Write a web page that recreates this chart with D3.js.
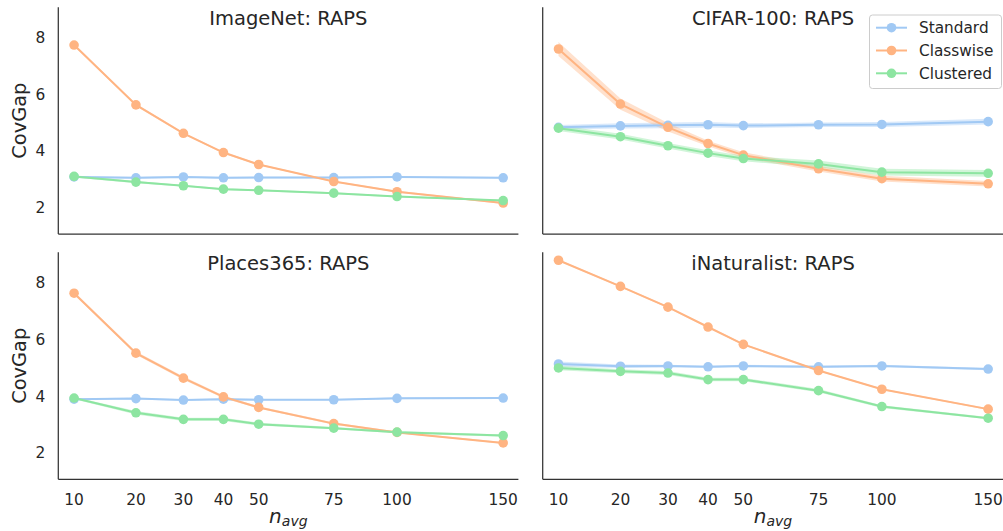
<!DOCTYPE html>
<html>
<head>
<meta charset="utf-8">
<script src="https://cdn.jsdelivr.net/npm/d3@7/dist/d3.min.js"></script>
<style>
  body { margin: 0; background: #fff; }
  text { font-family: "DejaVu Sans", sans-serif; fill: #262626; }
</style>
</head>
<body>
<svg id="chart" width="1003" height="531"></svg>
<script>
var nAvg = [10, 20, 30, 40, 50, 75, 100, 150];
var yTicks = [2, 4, 6, 8];
var methods = ["Standard", "Classwise", "Clustered"];
var colors = ["#a1c9f4", "#ffb482", "#8de5a1"];

// ImageNet
var imagenetStandard  = [3.08, 3.05, 3.08, 3.05, 3.06, 3.06, 3.08, 3.05];
var imagenetClasswise = [7.73, 5.62, 4.62, 3.94, 3.52, 2.92, 2.56, 2.16];
var imagenetClustered = [3.10, 2.90, 2.77, 2.65, 2.61, 2.51, 2.39, 2.25];
var imagenetErr = [[0.03, 0.03, 0.03, 0.03, 0.03, 0.03, 0.03, 0.03],
                   [0.04, 0.04, 0.03, 0.03, 0.03, 0.03, 0.03, 0.03],
                   [0.04, 0.04, 0.03, 0.03, 0.03, 0.03, 0.03, 0.03]];
// CIFAR-100
var cifarStandard  = [4.83, 4.88, 4.90, 4.92, 4.89, 4.92, 4.93, 5.03];
var cifarClasswise = [7.59, 5.65, 4.83, 4.26, 3.85, 3.37, 3.02, 2.84];
var cifarClustered = [4.80, 4.50, 4.18, 3.92, 3.73, 3.54, 3.25, 3.21];
var cifarErr = [[0.08, 0.09, 0.10, 0.10, 0.08, 0.08, 0.09, 0.10],
                [0.25, 0.20, 0.15, 0.10, 0.10, 0.10, 0.10, 0.10],
                [0.10, 0.10, 0.10, 0.10, 0.10, 0.12, 0.12, 0.12]];
// Places365
var placesStandard  = [3.89, 3.91, 3.86, 3.89, 3.87, 3.87, 3.92, 3.93];
var placesClasswise = [7.62, 5.51, 4.63, 3.97, 3.60, 3.03, 2.72, 2.35];
var placesClustered = [3.93, 3.41, 3.18, 3.18, 3.01, 2.87, 2.73, 2.61];
var placesErr = [[0.03, 0.03, 0.03, 0.03, 0.03, 0.03, 0.03, 0.03],
                 [0.05, 0.06, 0.06, 0.05, 0.04, 0.04, 0.03, 0.03],
                 [0.04, 0.06, 0.06, 0.06, 0.05, 0.04, 0.04, 0.04]];
// iNaturalist
var inatStandard  = [5.13, 5.05, 5.06, 5.03, 5.06, 5.03, 5.06, 4.95];
var inatClasswise = [8.78, 7.86, 7.13, 6.43, 5.82, 4.90, 4.24, 3.54];
var inatClustered = [4.99, 4.87, 4.81, 4.58, 4.58, 4.19, 3.63, 3.22];
var inatErr = [[0.09, 0.06, 0.04, 0.04, 0.04, 0.04, 0.04, 0.04],
               [0.03, 0.03, 0.03, 0.03, 0.03, 0.03, 0.03, 0.03],
               [0.08, 0.07, 0.07, 0.06, 0.06, 0.06, 0.05, 0.04]];

var panels = [
  { title: "ImageNet: RAPS",  series: [imagenetStandard, imagenetClasswise, imagenetClustered], err: imagenetErr, col: 0, row: 0 },
  { title: "CIFAR-100: RAPS", series: [cifarStandard, cifarClasswise, cifarClustered], err: cifarErr, col: 1, row: 0 },
  { title: "Places365: RAPS", series: [placesStandard, placesClasswise, placesClustered], err: placesErr, col: 0, row: 1 },
  { title: "iNaturalist: RAPS", series: [inatStandard, inatClasswise, inatClustered], err: inatErr, col: 1, row: 1 }
];

var colX = [[58.3, 518.4], [542.7, 1003.4]];
var rowY = [[7.3, 234], [252.3, 479.3]];

var svg = d3.select("#chart");

panels.forEach(function (p) {
  var xr = colX[p.col], yr = rowY[p.row];
  var x = d3.scalePow().exponent(0.5).domain([8, 158]).range(xr);
  var y = d3.scaleLinear().domain([1.07, 9.06]).range([yr[1], yr[0]]);
  var g = svg.append("g");

  // bands
  p.series.forEach(function (vals, i) {
    var area = d3.area()
      .x(function (d, j) { return x(nAvg[j]); })
      .y0(function (d, j) { return y(d - p.err[i][j]); })
      .y1(function (d, j) { return y(d + p.err[i][j]); });
    g.append("path").datum(vals).attr("d", area)
      .attr("fill", colors[i]).attr("opacity", 0.4);
  });

  // lines + markers
  p.series.forEach(function (vals, i) {
    var line = d3.line()
      .x(function (d, j) { return x(nAvg[j]); })
      .y(function (d) { return y(d); });
    g.append("path").datum(vals).attr("d", line)
      .attr("fill", "none").attr("stroke", colors[i]).attr("stroke-width", 2);
    g.selectAll(null).data(vals).enter().append("circle")
      .attr("cx", function (d, j) { return x(nAvg[j]); })
      .attr("cy", function (d) { return y(d); })
      .attr("r", 4.8).attr("fill", colors[i]);
  });

  // spines
  g.append("line").attr("x1", xr[0]).attr("x2", xr[0]).attr("y1", yr[0]).attr("y2", yr[1])
    .attr("stroke", "#333").attr("stroke-width", 1.25);
  g.append("line").attr("x1", xr[0]).attr("x2", xr[1]).attr("y1", yr[1]).attr("y2", yr[1])
    .attr("stroke", "#333").attr("stroke-width", 1.25);

  // title
  g.append("text").attr("x", (xr[0] + xr[1]) / 2).attr("y", yr[0] + 17.2)
    .attr("text-anchor", "middle").style("font-size", "19.5px").text(p.title);

  if (p.col === 0) {
    g.selectAll(null).data(yTicks).enter().append("text")
      .attr("x", xr[0] - 13).attr("y", function (d) { return y(d); })
      .attr("dy", "0.36em").attr("text-anchor", "end")
      .style("font-size", "15.4px").text(function (d) { return d; });
    g.append("text")
      .attr("transform", "translate(26," + ((yr[0] + yr[1]) / 2) + ") rotate(-90)")
      .attr("text-anchor", "middle").style("font-size", "19.4px").text("CovGap");
  }
  if (p.row === 1) {
    g.selectAll(null).data(nAvg).enter().append("text")
      .attr("x", function (d) { return x(d); }).attr("y", 505)
      .attr("text-anchor", "middle").style("font-size", "15.4px").text(function (d) { return d; });
    var xl = g.append("text").attr("x", (xr[0] + xr[1]) / 2).attr("y", 523)
      .attr("text-anchor", "middle");
    xl.append("tspan").style("font-size", "20px").style("font-style", "italic").text("n");
    xl.append("tspan").attr("dy", 3).style("font-size", "14px").style("font-style", "italic").text("avg");
  }
});

// legend in CIFAR-100 panel
var leg = svg.append("g");
leg.append("rect").attr("x", 869.5).attr("y", 15).attr("width", 132).attr("height", 73.5)
  .attr("rx", 3).attr("fill", "#fff").attr("fill-opacity", 0.8)
  .attr("stroke", "#cccccc").attr("stroke-width", 1);
methods.forEach(function (m, i) {
  var ly = 27.7 + i * 22.8;
  leg.append("line").attr("x1", 876).attr("x2", 907).attr("y1", ly).attr("y2", ly)
    .attr("stroke", colors[i]).attr("stroke-width", 2);
  leg.append("circle").attr("cx", 891.5).attr("cy", ly).attr("r", 4.8).attr("fill", colors[i]);
  leg.append("text").attr("x", 919).attr("y", ly).attr("dy", "0.36em")
    .style("font-size", "15.3px").text(m);
});
</script>
</body>
</html>
